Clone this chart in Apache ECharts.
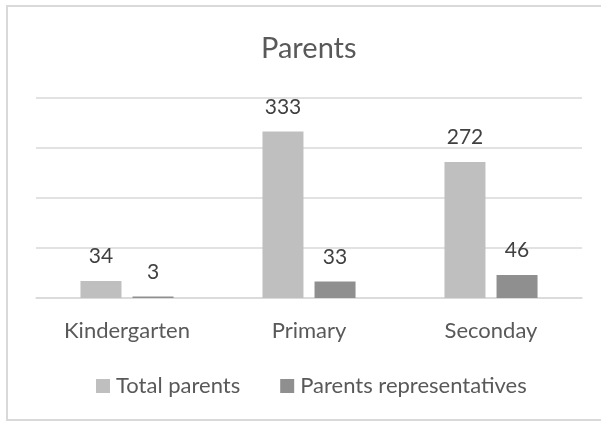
<!DOCTYPE html>
<html>
<head>
<meta charset="utf-8">
<script src="https://cdn.jsdelivr.net/npm/echarts@6/dist/echarts.min.js"></script>
<style>
  html, body { margin: 0; padding: 0; background: #ffffff; }
  #chart { width: 601px; height: 421px; }
</style>
</head>
<body>
<div id="chart"></div>
<script>
// School levels and parent counts
const categories = ['Kindergarten', 'Primary', 'Seconday'];
const totalParents = [34, 333, 272];
const parentRepresentatives = [3, 33, 46];
const seriesNames = ['Total parents', 'Parents representatives'];

const FONT = 'Lato';
const TEXT = '#595959';
const GRID_LINE = '#d9d9d9';

const chart = echarts.init(document.getElementById('chart'), null, { renderer: 'canvas' });

const labelStyle = {
  show: true,
  position: 'top',
  distance: 14,
  fontFamily: FONT,
  fontSize: 21,
  color: '#404040'
};

chart.setOption({
  backgroundColor: '#ffffff',
  animation: false,
  title: {
    text: 'Parents',
    left: 256,
    top: 29,
    textStyle: { fontFamily: FONT, fontSize: 29, fontWeight: 'normal', color: TEXT }
  },
  graphic: [{
    type: 'rect',
    shape: { x: 7, y: 6, width: 700, height: 414 },
    style: { fill: 'none', stroke: GRID_LINE, lineWidth: 2 },
    silent: true,
    z: -1
  }],
  legend: {
    data: seriesNames,
    left: 91,
    top: 370,
    itemWidth: 14,
    itemHeight: 14,
    itemGap: 40,
    icon: 'rect',
    textStyle: { fontFamily: FONT, fontSize: 22, color: TEXT, padding: [0, 0, 0, 1] }
  },
  grid: { left: 36, right: 19, top: 98, bottom: 123, containLabel: false },
  xAxis: {
    type: 'category',
    data: categories,
    axisLine: { lineStyle: { color: GRID_LINE, width: 1.5 } },
    axisTick: { show: false },
    axisLabel: { fontFamily: FONT, fontSize: 22, color: TEXT, margin: 22 }
  },
  yAxis: {
    type: 'value',
    min: 0,
    max: 400,
    interval: 100,
    axisLine: { show: false },
    axisTick: { show: false },
    axisLabel: { show: false },
    splitLine: { lineStyle: { color: GRID_LINE, width: 1.5 } }
  },
  series: [
    {
      name: seriesNames[0],
      type: 'bar',
      data: totalParents,
      barWidth: 41,
      barGap: '27%',
      itemStyle: { color: '#bfbfbf' },
      label: labelStyle
    },
    {
      name: seriesNames[1],
      type: 'bar',
      data: parentRepresentatives,
      barWidth: 41,
      barGap: '27%',
      itemStyle: { color: '#8f8f8f' },
      label: labelStyle
    }
  ]
});
</script>
</body>
</html>
